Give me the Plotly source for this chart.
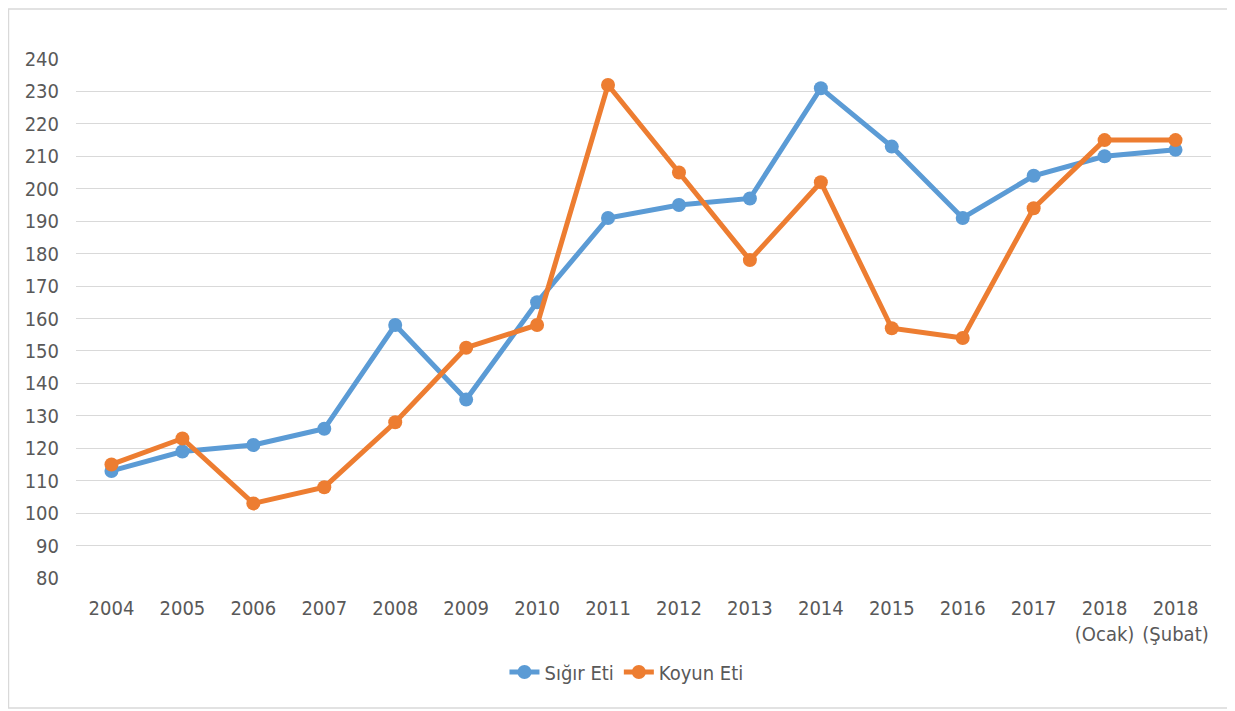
import plotly.graph_objects as go

categories = ["2004", "2005", "2006", "2007", "2008", "2009", "2010", "2011",
              "2012", "2013", "2014", "2015", "2016", "2017",
              "2018<br>(Ocak)", "2018<br>(Şubat)"]
sigir_eti = [113, 119, 121, 126, 158, 135, 165, 191, 195, 197, 231, 213, 191, 204, 210, 212]
koyun_eti = [115, 123, 103, 108, 128, 151, 158, 232, 205, 178, 202, 157, 154, 194, 215, 215]
y_ticks = list(range(80, 241, 10))

FONT = "Liberation Sans Narrow, Arial Narrow, DejaVu Sans Condensed, sans-serif"
TXT = "#595959"

fig = go.Figure()
fig.add_trace(go.Scatter(x=categories, y=sigir_eti, name="Sığır Eti", mode="lines+markers",
                         line=dict(color="#5B9BD5", width=5),
                         marker=dict(color="#5B9BD5", size=14)))
fig.add_trace(go.Scatter(x=categories, y=koyun_eti, name="Koyun Eti", mode="lines+markers",
                         line=dict(color="#ED7D31", width=5),
                         marker=dict(color="#ED7D31", size=14)))

fig.update_layout(
    width=1227, height=703,
    margin=dict(l=68, r=24, t=51, b=133),
    paper_bgcolor="white", plot_bgcolor="white",
    font=dict(family=FONT, size=20, color=TXT),
    showlegend=True,
    legend=dict(orientation="h", x=0.485, xanchor="center", y=-0.181, yanchor="middle",
                font=dict(family=FONT, size=20, color=TXT),
                traceorder="normal"),
    xaxis=dict(type="category", showgrid=False, zeroline=False, showline=False,
               ticks="outside", ticklen=12, tickcolor="rgba(0,0,0,0)",
               tickfont=dict(family=FONT, size=20, color=TXT),
               range=[-0.5, len(categories) - 0.5]),
    yaxis=dict(range=[80, 240], tickvals=y_ticks, showgrid=True, gridcolor="#D9D9D9",
               gridwidth=1.3, zeroline=False, showline=False,
               ticks="outside", ticklen=12, tickcolor="rgba(0,0,0,0)",
               tickfont=dict(family=FONT, size=20, color=TXT)),
    shapes=[dict(type="rect", xref="paper", yref="paper",
                 x0=-0.0595, x1=1.0194, y0=-0.2505, y1=1.0963,
                 line=dict(color="#D9D9D9", width=1.5), fillcolor="rgba(0,0,0,0)",
                 layer="below")],
)

fig.write_html("out.html")
